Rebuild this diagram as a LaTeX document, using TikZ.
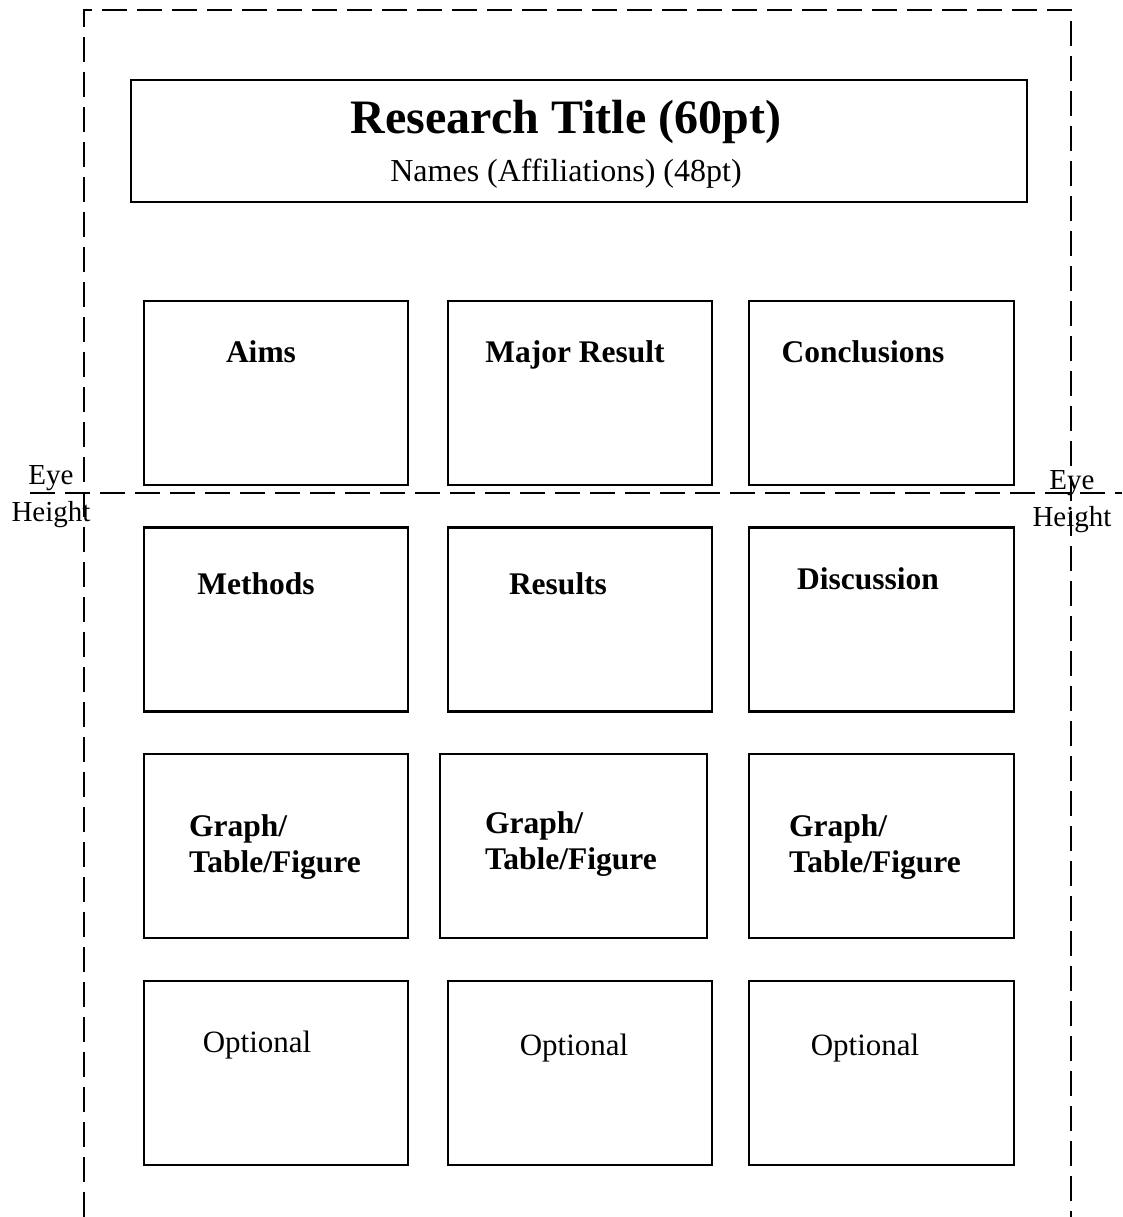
\documentclass[tikz,border=0pt]{standalone}
\usepackage{fontspec}
\setmainfont{Liberation Serif}
\begin{document}
\begin{tikzpicture}[x=1pt,y=-1pt,
  box/.style={draw,line width=2.4pt,inner sep=0pt},
  frame/.style={line width=2.4pt,dash pattern=on 25pt off 10pt},
  head/.style={font=\fontsize{31.5}{36}\selectfont\bfseries,inner sep=0pt},
  plain/.style={font=\fontsize{31}{36}\selectfont,inner sep=0pt},
  eye/.style={font=\fontsize{29}{37}\selectfont,inner sep=0pt,align=center}]
\useasboundingbox (0,0) rectangle (1122,1217);
% outer frame and eye line
\coordinate (fbl) at (84,1217);
\coordinate (ftl) at (84,10);
\coordinate (ftr) at (1071,10);
\coordinate (fbr) at (1071,1217);
\draw[frame] (fbl) -- (ftl) -- (ftr) -- (fbr);
\coordinate (el) at (30,493);
\coordinate (er) at (1122,493);
\draw[frame] (el) -- (er);
% title box
\node[box,minimum width=896pt,minimum height=122pt] (title) at (579,141) {};
\node[font=\fontsize{48}{52}\selectfont\bfseries,inner sep=0pt] (tt) at (566,122) {Research Title (60pt)};
\node[font=\fontsize{32}{36}\selectfont,inner sep=0pt] (tn) at (566,174) {Names (Affiliations) (48pt)};
% boxes
\foreach \n/\x/\y/\w in {a1/276/393/264, a2/580/393/264, a3/881.5/393/265,
  b1/276/619.5/264, b2/580/619.5/264, b3/881.5/619.5/265,
  c1/276/846/264, c2/573.5/846/267, c3/881.5/846/265,
  d1/276/1073/264, d2/580/1073/264, d3/881.5/1073/265}
  \node[box,minimum width=\w pt,minimum height=184pt] (\n) at (\x,\y) {};
% labels
\node[head] (l1) at (261,352) {Aims};
\node[head] (l2) at (575,355) {Major Result};
\node[head] (l3) at (863,352) {Conclusions};
\node[head] (l4) at (256,584) {Methods};
\node[head] (l5) at (558,584) {Results};
\node[head] (l6) at (868,579) {Discussion};
\node[head,align=left,anchor=west,font=\fontsize{31.5}{36.5}\selectfont\bfseries] (l7) at (189,847) {Graph/\\Table/Figure};
\node[head,align=left,anchor=west,font=\fontsize{31.5}{36.5}\selectfont\bfseries] (l8) at (485,844) {Graph/\\Table/Figure};
\node[head,align=left,anchor=west,font=\fontsize{31.5}{36.5}\selectfont\bfseries] (l9) at (789,847) {Graph/\\Table/Figure};
\node[plain] (o1) at (257,1045) {Optional};
\node[plain] (o2) at (574,1048) {Optional};
\node[plain] (o3) at (865,1048) {Optional};
\node[eye] (e1) at (51,497) {Eye\\Height};
\node[eye] (e2) at (1072,502) {Eye\\Height};
\end{tikzpicture}
\end{document}
